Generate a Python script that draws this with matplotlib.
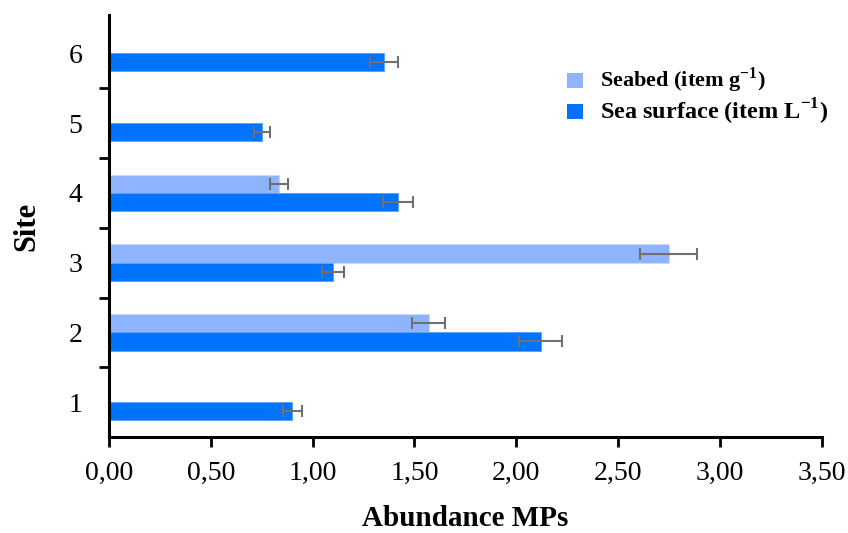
"""Abundance of microplastics per site: seabed vs sea surface"""

import matplotlib
matplotlib.use("Agg")
import matplotlib.pyplot as plt
from matplotlib.patches import Rectangle
import numpy as np

plt.rcParams['font.family'] = ['Liberation Serif', 'DejaVu Serif']
plt.rcParams['mathtext.fontset'] = 'custom'
plt.rcParams['mathtext.rm'] = 'Liberation Serif'
plt.rcParams['mathtext.bf'] = 'Liberation Serif:bold'

# Data
sites = [1, 2, 3, 4, 5, 6]
seabed = [0.0, 1.57, 2.75, 0.835, 0.0, 0.0]
seabed_err = [0.0, 0.08, 0.14, 0.045, 0.0, 0.0]
sea_surface = [0.90, 2.12, 1.10, 1.42, 0.75, 1.35]
sea_surface_err = [0.046, 0.105, 0.054, 0.072, 0.04, 0.07]
x_ticks = [0.0, 0.5, 1.0, 1.5, 2.0, 2.5, 3.0, 3.5]
x_tick_labels = ['0,00', '0,50', '1,00', '1,50', '2,00', '2,50', '3,00', '3,50']
series_labels = [r'Seabed (item g$^{\mathbf{-1}}$)', r'Sea surface (item L$^{\mathbf{-1}}$)']

SEABED_COLOR = '#8fb4ff'
SURFACE_COLOR = '#0073ff'
ERR_COLOR = '#707070'

fig = plt.figure(figsize=(8.48, 5.33), dpi=100)
ax = fig.add_axes([0.1285, 0.180, 0.8405, 0.792])

y = np.array(sites, dtype=float)
h = 0.26
off = 0.13

# Seabed bars (error bars only where there is a value)
sb_y = [yy + off for yy, v in zip(y, seabed) if v > 0]
sb_v = [v for v in seabed if v > 0]
sb_e = [e for e, v in zip(seabed_err, seabed) if v > 0]
ax.barh(y + off, seabed, height=h, color=SEABED_COLOR, edgecolor='#c8d9ff',
        linewidth=0.6, zorder=2)
ax.errorbar(sb_v, sb_y, xerr=sb_e, fmt='none', ecolor=ERR_COLOR,
            elinewidth=1.5, capsize=4, capthick=1.5, zorder=3)

# Sea surface bars
ax.barh(y - off, sea_surface, height=h, color=SURFACE_COLOR, edgecolor='#5aa0ff',
        linewidth=0.6, zorder=2)
ax.errorbar(sea_surface, y - off, xerr=sea_surface_err, fmt='none', ecolor=ERR_COLOR,
            elinewidth=1.5, capsize=4, capthick=1.5, zorder=3)

# Axes formatting
ax.set_xlim(0, 3.5)
ax.set_ylim(0.5, 6.55)
ax.spines['top'].set_visible(False)
ax.spines['right'].set_visible(False)
ax.spines['left'].set_linewidth(2.2)
ax.spines['bottom'].set_linewidth(2.2)

ax.set_xticks(x_ticks)
ax.set_xticklabels(x_tick_labels, fontsize=20)
ax.tick_params(axis='x', length=7, width=2, pad=10)

# Major y ticks between sites (no labels), labels at site centres
ax.set_yticks([s + 0.5 for s in sites[:-1]])
ax.set_yticklabels([])
ax.tick_params(axis='y', which='major', length=7, width=2)
ax.set_yticks(sites, minor=True)
ax.set_yticklabels([str(s) for s in sites], minor=True, fontsize=20)
ax.tick_params(axis='y', which='minor', length=0, pad=19)

ax.set_xlabel('Abundance MPs', fontsize=21, fontweight='bold', labelpad=14)
ax.set_ylabel('Site', fontsize=22, fontweight='bold', labelpad=20)

# Legend (two entries with different text sizes, as in the original)
legend_sq = [(0.6686, 0.8349), (0.6686, 0.7767)]
legend_txt_y = [0.8499, 0.7899]
legend_sizes = [16, 17.5]
for (sx, sy), ty, lab, fs, col in zip(legend_sq, legend_txt_y, series_labels,
                                      legend_sizes, [SEABED_COLOR, SURFACE_COLOR]):
    fig.patches.append(Rectangle((sx, sy), 0.0189, 0.0281, transform=fig.transFigure,
                                 facecolor=col, edgecolor='none'))
    fig.text(0.7075, ty, lab, fontsize=fs, fontweight='bold', va='center', ha='left')

fig.savefig('out.png', dpi=100)
plt.close(fig)
